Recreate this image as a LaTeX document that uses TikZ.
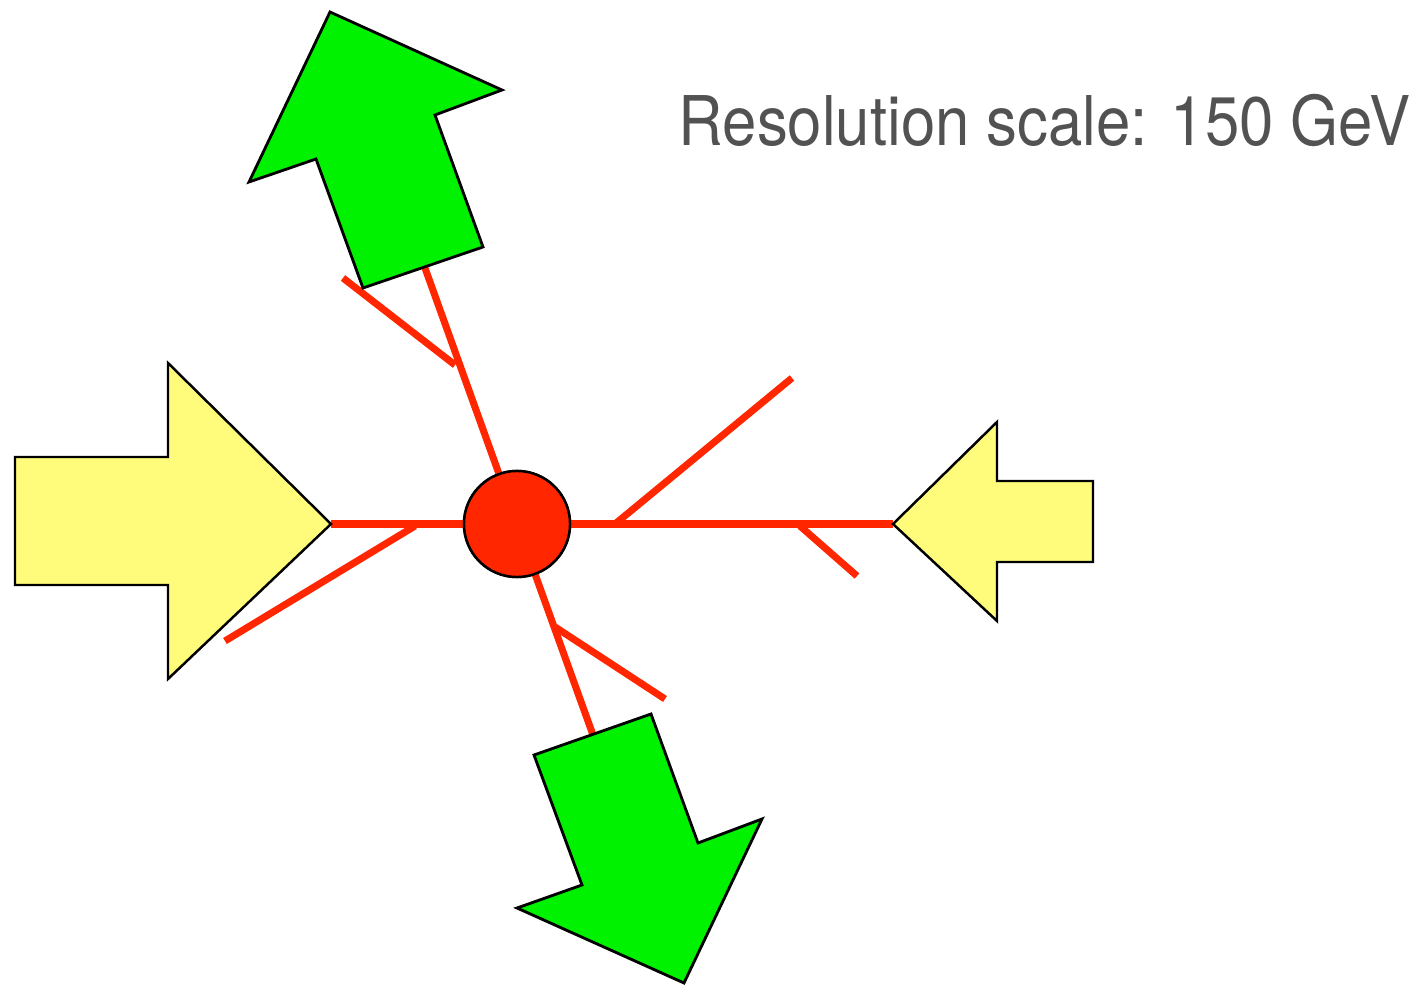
\documentclass[tikz,border=0pt]{standalone}
\usepackage{fontspec}
\setmainfont{TeX Gyre Heros}
\newfontfamily\scalefont{TeX Gyre Heros}[FakeStretch=0.9]
\definecolor{partonred}{RGB}{255,38,0}
\definecolor{jetgreen}{RGB}{0,242,0}
\definecolor{beamyellow}{RGB}{255,252,124}
\definecolor{labelgray}{RGB}{82,82,82}

\begin{document}
\begin{tikzpicture}[
    x=0.01cm, y=-0.01cm,
    parton/.style={draw=partonred, line width=2pt},
    beam/.style={draw=black, line width=0.7pt, fill=beamyellow},
    jet/.style={draw=black, line width=0.8pt, fill=jetgreen},
    vertex/.style={circle, draw=black, line width=0.7pt, fill=partonred, minimum size=1.06cm, inner sep=0pt},
    scalelabel/.style={text=labelgray, font=\scalefont\fontsize{19.5}{23}\selectfont, inner sep=0pt}
]
\useasboundingbox (0,0) rectangle (1411,985);

% hard vertex
\node[vertex] (vtx) at (517,524) {};

% line ends
\coordinate (inL) at (331,524);
\coordinate (inR) at (893,524);
\coordinate (outU) at (425,268);
\coordinate (outD) at (593,735);

% partons
\draw[parton] (vtx) -- (inL);
\draw[parton] (vtx) -- (inR);
\draw[parton] (vtx) -- (outU);
\draw[parton] (vtx) -- (outD);

% radiation
\coordinate (radL1) at (415,526);  \coordinate (radL2) at (225,641);
\coordinate (radR1) at (615,524);  \coordinate (radR2) at (792,378);
\coordinate (radR3) at (800,526);  \coordinate (radR4) at (857,576);
\coordinate (radU1) at (455,365);  \coordinate (radU2) at (343,278);
\coordinate (radD1) at (555,627);  \coordinate (radD2) at (665,699);
\draw[parton] (radL1) -- (radL2);
\draw[parton] (radR1) -- (radR2);
\draw[parton] (radR3) -- (radR4);
\draw[parton] (radU1) -- (radU2);
\draw[parton] (radD1) -- (radD2);

% incoming beams
\draw[beam] (15,457) -- (168,457) -- (168,363) -- (inL) -- (168,679) -- (168,585) -- (15,585) -- cycle;
\draw[beam] (inR) -- (997,422) -- (997,481) -- (1093,481) -- (1093,562) -- (997,562) -- (997,621) -- cycle;

% outgoing jets
\draw[jet] (363,288) -- (316,159) -- (249,182) -- (330,12) -- (502,90) -- (435,115) -- (483,247) -- cycle;
\draw[jet] (534,755) -- (651,714) -- (698,843) -- (762,819) -- (684,983) -- (517,908) -- (582,885) -- cycle;

\node[vertex] at (vtx) {};

\node[scalelabel, anchor=base west] (scale) at (678,146) {Resolution scale: 150 GeV};
\end{tikzpicture}
\end{document}
